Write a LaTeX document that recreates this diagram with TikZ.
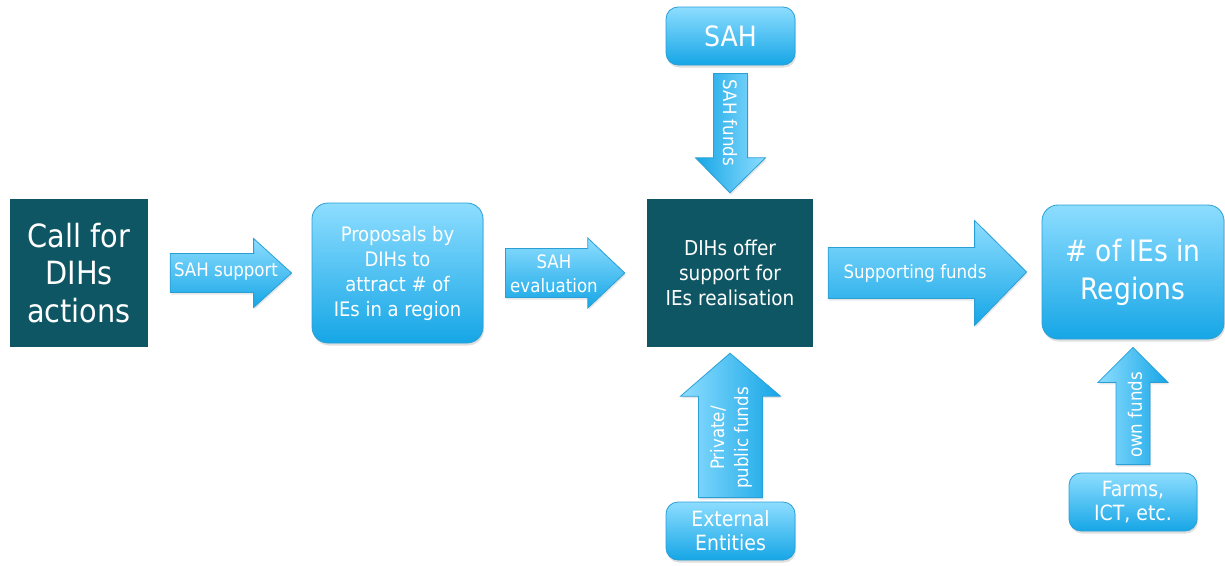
\documentclass[tikz,border=0pt]{standalone}
\usepackage{fontspec}
\setmainfont{DejaVu Sans Condensed}
\usetikzlibrary{calc,shadows}

\definecolor{hubteal}{HTML}{0E5664}
\definecolor{skytop}{HTML}{8DDDFF}
\definecolor{skybot}{HTML}{16A6E6}
\definecolor{skyline}{HTML}{2A9FD6}

% block arrows: tail, tip, body half width, head half width, head length
\newcommand{\rightblock}[5]{%
	\shade[blockarrow, top color=skytop, bottom color=skybot] let \p1 = #1, \p2 = #2 in
		(\x1, \y1+#3) -- (\x2-#5, \y1+#3) -- (\x2-#5, \y1+#4) -- (\x2, \y2)
		-- (\x2-#5, \y1-#4) -- (\x2-#5, \y1-#3) -- (\x1, \y1-#3) -- cycle;}
\newcommand{\downblock}[5]{%
	\shade[blockarrow, left color=skybot, right color=skytop] let \p1 = #1, \p2 = #2 in
		(\x1-#3, \y1) -- (\x1-#3, \y2+#5) -- (\x1-#4, \y2+#5) -- (\x2, \y2)
		-- (\x1+#4, \y2+#5) -- (\x1+#3, \y2+#5) -- (\x1+#3, \y1) -- cycle;}
\newcommand{\upblock}[5]{%
	\shade[blockarrow, left color=skytop, right color=skybot] let \p1 = #1, \p2 = #2 in
		(\x1-#3, \y1) -- (\x1-#3, \y2-#5) -- (\x1-#4, \y2-#5) -- (\x2, \y2)
		-- (\x1+#4, \y2-#5) -- (\x1+#3, \y2-#5) -- (\x1+#3, \y1) -- cycle;}

\begin{document}
\begin{tikzpicture}[x = 1pt, y = -1pt,
		hubbox/.style = {fill = hubteal, text = white, align = center, inner sep = 0pt},
		skybox/.style = {rounded corners = 16pt, top color = skytop, bottom color = skybot,
			draw = skyline, line width = 0.8pt, text = white, align = center, inner sep = 0pt,
			drop shadow = {opacity = 0.25, shadow xshift = 1pt, shadow yshift = -2.5pt}},
		blockarrow/.style = {draw = skyline, line width = 0.8pt,
			drop shadow = {opacity = 0.2, shadow xshift = 1pt, shadow yshift = -2pt}},
		arrowtext/.style = {text = white, align = center, inner sep = 0pt,
			font = \fontsize{18.5}{24}\selectfont}]
	
	\useasboundingbox (0, 0) rectangle (1225, 565);
	
	% Main row
	\node[hubbox, minimum width = 138, minimum height = 148, font = \fontsize{32}{37.5}\selectfont]
		(call) at (79, 273) {Call for\\DIHs\\actions};
	\node[skybox, minimum width = 171, minimum height = 140, font = \fontsize{20}{25}\selectfont]
		(prop) at (397.5, 273) {Proposals by\\DIHs to\\attract \# of\\IEs in a region};
	\node[hubbox, minimum width = 166, minimum height = 148, font = \fontsize{20.5}{25}\selectfont]
		(dih) at (730, 273) {DIHs offer\\support for\\IEs realisation};
	\node[skybox, minimum width = 182, minimum height = 134, font = \fontsize{29.5}{38}\selectfont]
		(ies) at (1133, 272) {\# of IEs in\\Regions};
	
	% Sources of funds
	\node[skybox, rounded corners = 12pt, minimum width = 129, minimum height = 58,
		font = \fontsize{28}{34}\selectfont] (sah) at (730.5, 36) {SAH};
	\node[skybox, rounded corners = 12pt, minimum width = 129, minimum height = 58,
		font = \fontsize{21}{24}\selectfont] (ext) at (730.5, 531) {External\\Entities};
	\node[skybox, rounded corners = 12pt, minimum width = 128, minimum height = 58,
		font = \fontsize{21}{24}\selectfont] (farms) at (1133, 502) {Farms,\\ICT, etc.};
	
	% Block arrows
	\rightblock{($(call.east) + (22, 0)$)}{($(prop.west) + (-20, 0)$)}{19.5pt}{34.5pt}{38pt}
	\rightblock{($(prop.east) + (22, 0)$)}{($(dih.west) + (-22, 0)$)}{24.5pt}{35pt}{37pt}
	\rightblock{($(dih.east) + (15, 0)$)}{($(ies.west) + (-15, 0)$)}{25.5pt}{52.5pt}{52pt}
	\downblock{($(sah.south) + (0, 8)$)}{($(dih.north) + (0, -6)$)}{17pt}{35pt}{35pt}
	\upblock{($(ext.north) + (0, -4)$)}{($(dih.south) + (0, 6)$)}{32pt}{50pt}{43pt}
	\upblock{($(farms.north) + (0, -8)$)}{($(ies.south) + (0, 8)$)}{17pt}{35pt}{35pt}
	
	% Arrow labels
	\node[arrowtext] (support) at (226, 272) {SAH support};
	\node[arrowtext] (evaluation) at (554, 274) {SAH\\evaluation};
	\node[arrowtext] (supporting) at (915, 273) {Supporting funds};
	\node[arrowtext, rotate = -90] (sahfunds) at (730, 123) {SAH funds};
	\node[arrowtext, rotate = 90] (pubfunds) at (731, 438) {Private/\\public funds};
	\node[arrowtext, rotate = 90] (ownfunds) at (1135, 415) {own funds};
	
\end{tikzpicture}
\end{document}
